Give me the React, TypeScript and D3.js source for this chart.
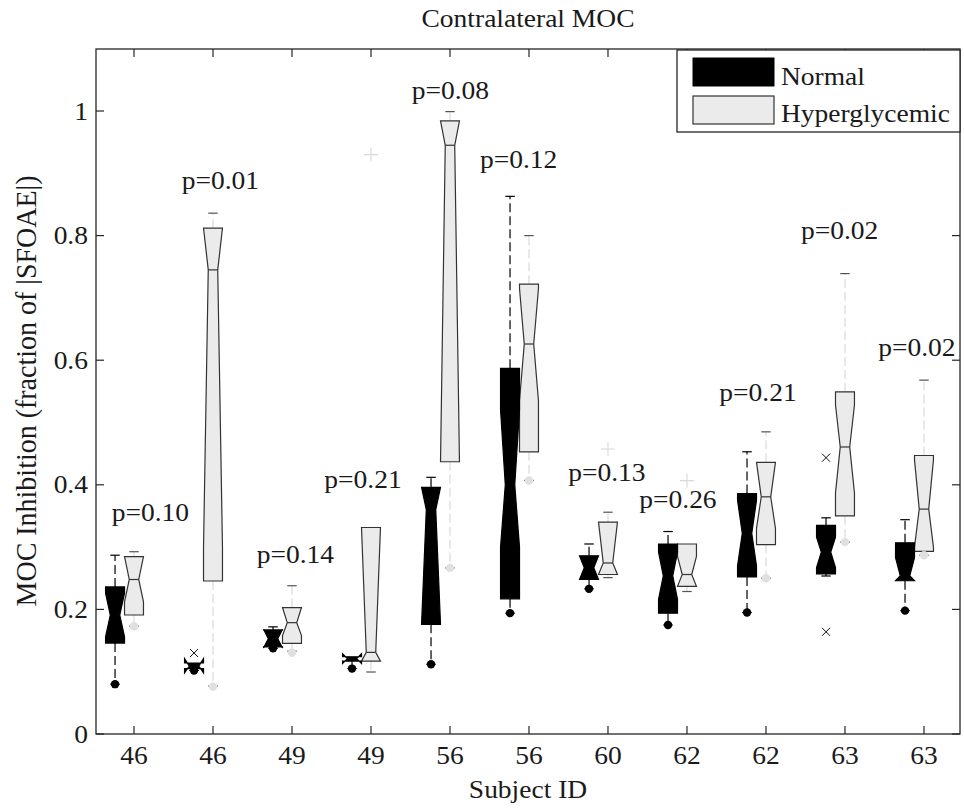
import React from "react";
import * as d3 from "d3";

const subjectIds = ["46", "46", "49", "49", "56", "56", "60", "62", "62", "63", "63"];

// Normal (black) boxes
const normalQ1 = [0.146, 0.105, 0.140, 0.117, 0.176, 0.217, 0.248, 0.194, 0.252, 0.257, 0.246];
const normalMedian = [0.191, 0.109, 0.153, 0.121, 0.360, 0.400, 0.267, 0.254, 0.322, 0.292, 0.254];
const normalQ3 = [0.236, 0.114, 0.167, 0.124, 0.396, 0.587, 0.286, 0.305, 0.386, 0.335, 0.307];
const normalNotchLo = [0.156, 0.098, 0.138, 0.113, 0.176, 0.300, 0.248, 0.216, 0.270, 0.267, 0.246];
const normalNotchHi = [0.226, 0.121, 0.168, 0.129, 0.396, 0.520, 0.286, 0.292, 0.375, 0.316, 0.283];
const normalWhiskerLo = [0.080, 0.102, 0.1375, 0.105, 0.112, 0.194, 0.233, 0.175, 0.195, 0.2536, 0.198];
const normalWhiskerHi = [0.287, 0.114, 0.172, 0.124, 0.412, 0.863, 0.305, 0.325, 0.453, 0.347, 0.344];
const normalDots: (number | null)[] = [0.080, 0.102, 0.1375, 0.105, 0.112, 0.194, 0.233, 0.175, 0.195, null, 0.198];
const normalOutlierPos = [2, 10, 10];
const normalOutlierVal = [0.130, 0.4435, 0.164];

// Hyperglycemic (grey) boxes
const hyperQ1 = [0.191, 0.2456, 0.1456, 0.117, 0.437, 0.453, 0.256, 0.237, 0.304, 0.350, 0.293];
const hyperMedian = [0.248, 0.745, 0.1787, 0.131, 0.945, 0.626, 0.2745, 0.256, 0.3807, 0.4607, 0.361];
const hyperQ3 = [0.2846, 0.812, 0.203, 0.3315, 0.984, 0.722, 0.340, 0.305, 0.436, 0.549, 0.447];
const hyperNotchLo = [0.212, 0.300, 0.158, 0.117, 0.437, 0.535, 0.256, 0.237, 0.330, 0.387, 0.300];
const hyperNotchHi = [0.2846, 0.812, 0.203, 0.3315, 0.984, 0.715, 0.340, 0.285, 0.436, 0.528, 0.440];
const hyperWhiskerLo = [0.173, 0.077, 0.133, 0.0995, 0.2666, 0.407, 0.251, 0.2287, 0.250, 0.308, 0.2868];
const hyperWhiskerHi = [0.2926, 0.836, 0.238, 0.3315, 0.999, 0.800, 0.356, 0.305, 0.485, 0.739, 0.568];
const hyperDots: (number | null)[] = [0.173, 0.076, 0.1305, null, 0.2666, 0.407, null, null, 0.250, 0.308, 0.2868];
const hyperOutlierPos = [4, 7, 8];
const hyperOutlierVal = [0.93, 0.4575, 0.4067];

// p-value annotations (x in category units, y in data units)
const pLabels = ["p=0.10", "p=0.01", "p=0.14", "p=0.21", "p=0.08", "p=0.12", "p=0.13", "p=0.26", "p=0.21", "p=0.02", "p=0.02"];
const pLabelX = [0.718, 1.604, 2.553, 3.409, 4.515, 5.38, 6.497, 7.396, 8.409, 9.443, 10.42];
const pLabelY = [0.342, 0.875, 0.274, 0.3955, 1.019, 0.9085, 0.4067, 0.3623, 0.5345, 0.795, 0.6067];

const yTicks = [0, 0.2, 0.4, 0.6, 0.8, 1];
const yTickLabels = ["0", "0.2", "0.4", "0.6", "0.8", "1"];
const legendLabels = ["Normal", "Hyperglycemic"];

const W = 964, H = 808;
const FONT = "Liberation Serif, Times New Roman, Times, serif";
const GREY_FILL = "#ebebeb";

const T = ({ x, y, anchor = "start", size = 25, rotate = false, sx = 1.1, children }: any) => (
  <text
    transform={`translate(${x},${y}) scale(${sx},1)${rotate ? " rotate(-90)" : ""}`}
    textAnchor={anchor}
    fontSize={size}
    style={{ fontFamily: FONT }}
    fill="#1a1a1a"
  >
    {children}
  </text>
);

export default function App() {
  const x = d3.scaleLinear().domain([0.519, 11.456]).range([96, 960]);
  const y = d3.scaleLinear().domain([0, 1.1]).range([734, 48.7]);
  const left = 96, right = 960, top = 49, bottom = 734;
  const boxW = x(1.24) - x(1);
  const offset = 0.24;
  const line = d3.line();

  const boxPath = (cx: number, i: number, q1: number[], q3: number[], med: number[], nlo: number[], nhi: number[]) => {
    const L = cx - boxW / 2, R = cx + boxW / 2, n = boxW / 4;
    const pts: [number, number][] = [
      [L, y(q1[i])], [L, y(nlo[i])], [L + n, y(med[i])], [L, y(nhi[i])], [L, y(q3[i])],
      [R, y(q3[i])], [R, y(nhi[i])], [R - n, y(med[i])], [R, y(nlo[i])], [R, y(q1[i])],
    ];
    return line(pts) + "Z";
  };

  const renderSeries = (kind: "n" | "h") => {
    const isN = kind === "n";
    const q1 = isN ? normalQ1 : hyperQ1;
    const q3 = isN ? normalQ3 : hyperQ3;
    const med = isN ? normalMedian : hyperMedian;
    const nlo = isN ? normalNotchLo : hyperNotchLo;
    const nhi = isN ? normalNotchHi : hyperNotchHi;
    const wlo = isN ? normalWhiskerLo : hyperWhiskerLo;
    const whi = isN ? normalWhiskerHi : hyperWhiskerHi;
    const dots = isN ? normalDots : hyperDots;
    const whiskColor = isN ? "#000" : "#dadada";
    const capColor = isN ? "#000" : "#555";
    return subjectIds.map((_, i) => {
      const cx = x(i + 1 - (isN ? offset : 0));
      const capHalf = boxW / 4;
      return (
        <g key={kind + i}>
          {whi[i] > q3[i] + 0.001 && (
            <>
              <line x1={cx} x2={cx} y1={y(q3[i])} y2={y(whi[i])} stroke={whiskColor} strokeWidth={1.2} strokeDasharray="9,4" />
              <line x1={cx - capHalf} x2={cx + capHalf} y1={y(whi[i])} y2={y(whi[i])} stroke={capColor} strokeWidth={1.2} />
            </>
          )}
          {wlo[i] < q1[i] - 0.001 && (
            <>
              <line x1={cx} x2={cx} y1={y(q1[i])} y2={y(wlo[i])} stroke={whiskColor} strokeWidth={1.2} strokeDasharray="9,4" />
              <line x1={cx - capHalf} x2={cx + capHalf} y1={y(wlo[i])} y2={y(wlo[i])} stroke={capColor} strokeWidth={1.2} />
            </>
          )}
          <path
            d={boxPath(cx, i, q1, q3, med, nlo, nhi)}
            fill={isN ? "#000" : GREY_FILL}
            stroke={isN ? "#000" : "#333"}
            strokeWidth={1.2}
          />
          {!isN && (
            <line x1={cx - boxW / 4} x2={cx + boxW / 4} y1={y(med[i])} y2={y(med[i])} stroke="#333" strokeWidth={1.2} />
          )}
          {dots[i] !== null && (
            <circle cx={cx} cy={y(dots[i] as number)} r={4.2} fill={isN ? "#000" : "#e0e0e0"} />
          )}
        </g>
      );
    });
  };

  return (
    <svg width={W} height={H} style={{ position: "absolute", left: 0, top: 0, background: "#fff" }}>
      <rect x={0} y={0} width={W} height={H} fill="#fff" />
      <rect x={left} y={top} width={right - left} height={bottom - top} fill="none" stroke="#262626" strokeWidth={1.3} />
      {subjectIds.map((s, i) => (
        <g key={"xt" + i}>
          <line x1={x(i + 1)} x2={x(i + 1)} y1={bottom} y2={bottom - 8} stroke="#262626" strokeWidth={1.2} />
          <line x1={x(i + 1)} x2={x(i + 1)} y1={top} y2={top + 8} stroke="#262626" strokeWidth={1.2} />
          <T x={x(i + 1)} y={763.5} anchor="middle">{s}</T>
        </g>
      ))}
      {yTicks.map((t, i) => (
        <g key={"yt" + i}>
          <line x1={left} x2={left + 8} y1={y(t)} y2={y(t)} stroke="#262626" strokeWidth={1.2} />
          <line x1={right} x2={right - 8} y1={y(t)} y2={y(t)} stroke="#262626" strokeWidth={1.2} />
          <T x={88} y={y(t) + 8.5} anchor="end">{yTickLabels[i]}</T>
        </g>
      ))}
      {renderSeries("h")}
      {renderSeries("n")}
      {normalOutlierPos.map((p, i) => {
        const cx = x(p - offset), cy = y(normalOutlierVal[i]);
        return (
          <path key={"no" + i} d={`M${cx - 4},${cy - 4}L${cx + 4},${cy + 4}M${cx - 4},${cy + 4}L${cx + 4},${cy - 4}`} stroke="#111" strokeWidth={1} />
        );
      })}
      {hyperOutlierPos.map((p, i) => {
        const cx = x(p), cy = y(hyperOutlierVal[i]);
        return (
          <path key={"ho" + i} d={`M${cx - 7},${cy}L${cx + 7},${cy}M${cx},${cy - 7}L${cx},${cy + 7}`} stroke="#d8d8d8" strokeWidth={1.1} />
        );
      })}
      {pLabels.map((p, i) => (
        <T key={"p" + i} x={x(pLabelX[i])} y={y(pLabelY[i])}>{p}</T>
      ))}
      <rect x={677} y={50} width={283} height={82} fill="#fff" stroke="#262626" strokeWidth={1.3} />
      <rect x={693} y={58} width={81} height={28} fill="#000" stroke="#000" />
      <rect x={693} y={96} width={81} height={28} fill={GREY_FILL} stroke="#333" strokeWidth={1.2} />
      <T x={781} y={84.5}>{legendLabels[0]}</T>
      <T x={781} y={121.5}>{legendLabels[1]}</T>
      <T x={528} y={27} anchor="middle">Contralateral MOC</T>
      <T x={528} y={798} anchor="middle">Subject ID</T>
      <T x={36} y={391} anchor="middle" size={28} sx={1.08} rotate>MOC Inhibition (fraction of |SFOAE|)</T>
    </svg>
  );
}
